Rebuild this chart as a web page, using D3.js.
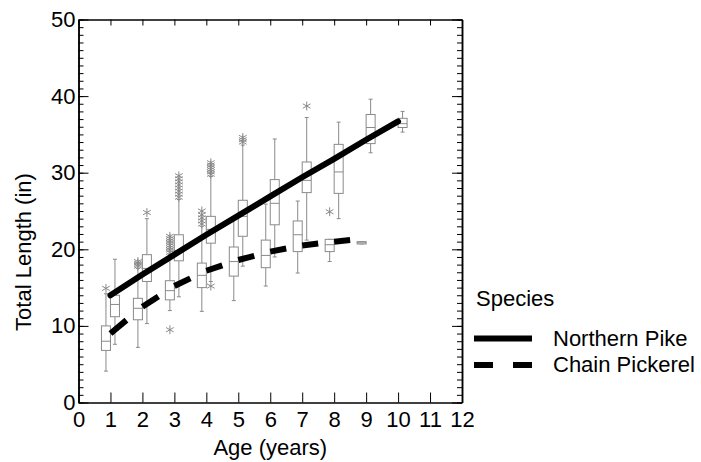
<!DOCTYPE html>
<html>
<head>
<meta charset="utf-8">
<script src="https://cdn.jsdelivr.net/npm/d3@7"></script>
<style>
  body { margin: 0; background: #fff; }
  text { font-family: "Liberation Sans", Arial, sans-serif; fill: #000; }
</style>
</head>
<body>
<div id="chart"></div>
<script>
(function() {
  var width = 701, height = 462;

  // tick labels
  var xTicks = [0, 1, 2, 3, 4, 5, 6, 7, 8, 9, 10, 11, 12];
  var yTicks = [0, 10, 20, 30, 40, 50];

  // Chain Pickerel boxes (ages 1-9)
  var pickerelAges = [1, 2, 3, 4, 5, 6, 7, 8, 9];
  var pickerelLow  = [4.1, 7.2, 12.0, 11.9, 13.3, 15.2, 16.9, 18.4, 20.7];
  var pickerelQ1   = [6.8, 10.8, 13.4, 15.0, 16.5, 17.6, 19.7, 19.7, 20.7];
  var pickerelMed  = [8.0, 12.3, 14.6, 16.6, 18.4, 19.2, 21.9, 20.6, 20.85];
  var pickerelQ3   = [10.0, 13.6, 15.9, 18.2, 20.3, 21.2, 23.7, 21.3, 21.0];
  var pickerelHigh = [14.2, 17.5, 19.3, 23.0, 24.0, 25.9, 26.3, 21.3, 21.0];
  var pickerelOut  = [[1, 14.9], [2, 17.8], [2, 18.0], [2, 18.2], [2, 18.4],
    [3, 9.5], [3, 19.6], [3, 19.9], [3, 20.2], [3, 20.5], [3, 20.8], [3, 21.1], [3, 21.4], [3, 21.7],
    [4, 23.3], [4, 23.7], [4, 24.1], [4, 24.5], [4, 25.0], [8, 24.9]];

  // Northern Pike boxes (ages 1-10)
  var pikeAges = [1, 2, 3, 4, 5, 6, 7, 8, 9, 10];
  var pikeLow  = [7.6, 10.3, 13.8, 15.8, 17.8, 19.0, 21.2, 24.0, 32.6, 35.3];
  var pikeQ1   = [11.2, 15.8, 18.5, 20.8, 21.7, 23.2, 27.4, 27.3, 33.8, 35.9];
  var pikeMed  = [12.8, 17.5, 19.8, 22.6, 24.3, 26.0, 29.0, 30.1, 35.9, 36.4];
  var pikeQ3   = [14.0, 19.3, 21.9, 24.3, 26.4, 29.1, 31.4, 33.7, 37.6, 37.1];
  var pikeHigh = [18.7, 24.0, 26.5, 29.5, 33.6, 34.4, 37.2, 36.6, 39.6, 38.0];
  var pikeOut  = [[2, 24.8],
    [3, 26.8], [3, 27.2], [3, 27.6], [3, 28.0], [3, 28.4], [3, 28.8], [3, 29.2], [3, 29.6],
    [4, 15.2], [4, 29.8], [4, 30.1], [4, 30.4], [4, 30.7], [4, 31.0], [4, 31.3],
    [5, 34.0], [5, 34.3], [5, 34.6], [7, 38.7]];

  // fitted growth curves
  var pikeFitAges = [1, 2, 3, 4, 5, 6, 7, 8, 9, 10];
  var pikeFit     = [14.0, 16.7, 19.3, 21.9, 24.4, 26.9, 29.4, 31.8, 34.3, 36.7];
  var pickerelFitAges = [1, 2, 3, 4, 5, 6, 7, 8, 9];
  var pickerelFit     = [9.0, 12.5, 15.2, 17.2, 18.6, 19.7, 20.5, 21.0, 21.4];

  var species = ['Northern Pike', 'Chain Pickerel'];

  var grey = '#8a8a8a';
  var left = 78.5, right = 462, top = 19.5, bottom = 402.5;

  var x = d3.scaleLinear().domain([0, 12]).range([left, right]);
  var y = d3.scaleLinear().domain([0, 50]).range([bottom, top]);

  var svg = d3.select('#chart').append('svg').attr('width', width).attr('height', height);

  // boxes
  var makeRows = function(ages, lo, q1, md, q3, hi, dx) {
    return ages.map(function(a, i) {
      return { age: a, lo: lo[i], q1: q1[i], md: md[i], q3: q3[i], hi: hi[i], dx: dx };
    });
  };
  var rows = makeRows(pickerelAges, pickerelLow, pickerelQ1, pickerelMed, pickerelQ3, pickerelHigh, -4.5)
    .concat(makeRows(pikeAges, pikeLow, pikeQ1, pikeMed, pikeQ3, pikeHigh, 4.5));

  var bw = 9;
  var g = svg.append('g').attr('stroke', grey).attr('stroke-width', 1).attr('fill', 'none');
  var box = g.selectAll('g.box').data(rows).enter().append('g')
    .attr('transform', function(d) { return 'translate(' + (x(d.age) + d.dx) + ',0)'; });
  box.append('line').attr('x1', 0).attr('x2', 0)
    .attr('y1', function(d) { return y(d.hi); }).attr('y2', function(d) { return y(d.q3); });
  box.append('line').attr('x1', 0).attr('x2', 0)
    .attr('y1', function(d) { return y(d.q1); }).attr('y2', function(d) { return y(d.lo); });
  box.append('line').attr('x1', -2).attr('x2', 2)
    .attr('y1', function(d) { return y(d.hi); }).attr('y2', function(d) { return y(d.hi); });
  box.append('line').attr('x1', -2).attr('x2', 2)
    .attr('y1', function(d) { return y(d.lo); }).attr('y2', function(d) { return y(d.lo); });
  box.append('rect').attr('x', -bw / 2).attr('width', bw)
    .attr('y', function(d) { return y(d.q3); })
    .attr('height', function(d) { return Math.max(1, y(d.q1) - y(d.q3)); })
    .attr('fill', '#fff');
  box.append('line').attr('x1', -bw / 2).attr('x2', bw / 2)
    .attr('y1', function(d) { return y(d.md); }).attr('y2', function(d) { return y(d.md); });

  // outliers
  var star = d3.symbol().type(d3.symbolAsterisk).size(55);
  var outs = pickerelOut.map(function(d) { return [d[0], d[1], -4.5]; })
    .concat(pikeOut.map(function(d) { return [d[0], d[1], 4.5]; }));
  g.selectAll('path.out').data(outs).enter().append('path')
    .attr('d', star)
    .attr('transform', function(d) { return 'translate(' + (x(d[0]) + d[2]) + ',' + y(d[1]) + ')'; });

  // fitted lines
  var line = d3.line()
    .x(function(d) { return x(d[0]); })
    .y(function(d) { return y(d[1]); });

  svg.append('path')
    .datum(pikeFitAges.map(function(a, i) { return [a, pikeFit[i]]; }))
    .attr('d', line)
    .attr('fill', 'none').attr('stroke', '#000').attr('stroke-width', 6)
    .attr('stroke-linecap', 'round');

  var segs = pickerelFitAges.slice(1).map(function(a, i) {
    return [[pickerelFitAges[i], pickerelFit[i]], [a, pickerelFit[i + 1]]];
  });
  svg.selectAll('path.seg').data(segs).enter().append('path')
    .attr('d', line)
    .attr('pathLength', 100)
    .attr('fill', 'none').attr('stroke', '#000').attr('stroke-width', 6)
    .attr('stroke-dasharray', '50,50');

  // axes
  var axes = svg.append('g');
  axes.append('g').attr('transform', 'translate(0,' + bottom + ')')
    .call(d3.axisBottom(x).tickValues(xTicks).tickSizeInner(-10).tickSizeOuter(0).tickPadding(9));
  axes.append('g').attr('transform', 'translate(0,' + top + ')')
    .call(d3.axisTop(x).tickValues(xTicks).tickSizeInner(-6).tickSizeOuter(0).tickFormat(''));
  axes.append('g').attr('transform', 'translate(' + left + ',0)')
    .call(d3.axisLeft(y).tickValues(d3.range(0, 51)).tickSizeInner(-5).tickSizeOuter(0).tickFormat(''));
  axes.append('g').attr('transform', 'translate(' + left + ',0)')
    .call(d3.axisLeft(y).tickValues(yTicks).tickSizeInner(-10).tickSizeOuter(0).tickPadding(3));
  axes.append('g').attr('transform', 'translate(' + right + ',0)')
    .call(d3.axisRight(y).tickValues(d3.range(0, 51)).tickSizeInner(-5).tickSizeOuter(0).tickFormat(''));
  axes.append('g').attr('transform', 'translate(' + right + ',0)')
    .call(d3.axisRight(y).tickValues(yTicks).tickSizeInner(-10).tickSizeOuter(0).tickFormat(''));

  axes.selectAll('.domain').attr('stroke', '#000').attr('stroke-width', 1.5);
  axes.selectAll('.tick line').attr('stroke', '#000').attr('stroke-width', 1);
  axes.selectAll('.tick text').attr('font-size', 22).attr('fill', '#000')
    .attr('font-family', '"Liberation Sans", Arial, sans-serif');

  // titles
  svg.append('text').attr('x', x(6)).attr('y', 455).attr('text-anchor', 'middle')
    .attr('font-size', 22).text('Age (years)');
  svg.append('text').attr('transform', 'translate(31,252) rotate(-90)').attr('text-anchor', 'middle')
    .attr('font-size', 22).text('Total Length (in)');

  // legend
  var lg = svg.append('g').attr('transform', 'translate(474,0)');
  lg.append('text').attr('x', 2).attr('y', 306).attr('font-size', 22).text('Species');
  var items = lg.selectAll('g.item').data(species).enter().append('g')
    .attr('transform', function(d, i) { return 'translate(0,' + (338.5 + i * 26.5) + ')'; });
  items.append('line').attr('x1', 0).attr('x2', 58).attr('y1', 0).attr('y2', 0)
    .attr('stroke', '#000').attr('stroke-width', 6)
    .attr('stroke-dasharray', function(d, i) { return i ? '19,20' : null; });
  items.append('text').attr('x', 79).attr('y', 7).attr('font-size', 22).text(function(d) { return d; });
})();
</script>
</body>
</html>
